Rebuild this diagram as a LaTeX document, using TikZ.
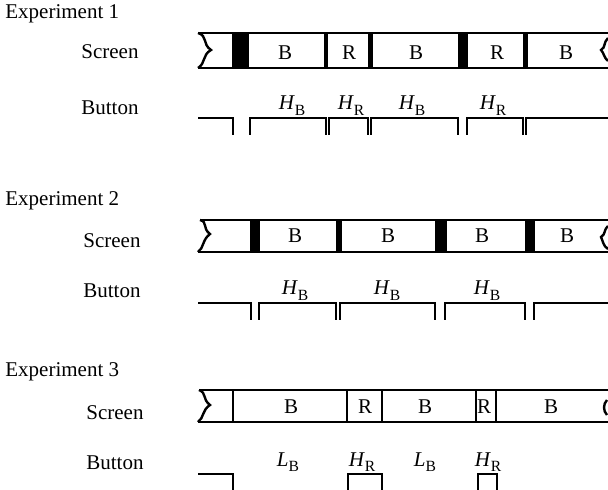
\documentclass[tikz,border=0pt]{standalone}
\usepackage{fontspec}
\setmainfont{Liberation Serif}
\usetikzlibrary{calc}

\tikzset{
    strip/.style={line width=1.2pt},
    pulse/.style={line width=1.2pt},
    divider/.style={line width=0.9pt},
    rowlabel/.style={anchor=base west,inner sep=0pt,font=\fontsize{10.5}{12}\selectfont},
    boxlabel/.style={anchor=base,inner sep=0pt,font=\fontsize{10.5}{12}\selectfont},
    presslabel/.style={anchor=base,inner sep=0pt,font=\fontsize{10.5}{12}\selectfont}
}
\newcommand{\press}[2]{\textit{#1}\raisebox{-0.28em}{\fontsize{7.8}{9}\selectfont #2}}

\begin{document}
\begin{tikzpicture}[x=0.5pt,y=-0.5pt]

\useasboundingbox (0,0) rectangle (608,490);

%====================================================
% Experiment 1
%====================================================

\node[rowlabel] (e1) at (5,19) {Experiment 1};
\node[rowlabel] (e1s) at (81,59) {Screen};
\node[rowlabel] (e1p) at (81,115) {Button};

\coordinate (s1tl) at (198,33);
\coordinate (s1bl) at (198,68);

\draw[strip] (s1tl) .. controls (208,36) and (202,44) .. (211,50)
                   .. controls (202,55) and (206,63) .. (s1bl);
\draw[strip] (s1tl) -- (608,33);
\draw[strip] (s1bl) -- (608,68);
\draw[strip] (608,38) .. controls (603,43) and (606,47) .. (601,50)
                      .. controls (604,53) and (604,58) .. (608,61);

\fill (232,33) rectangle (249,68);
\fill (324,33) rectangle (328,68);
\fill (368,33) rectangle (373,68);
\fill (458,33) rectangle (468,68);
\fill (523,33) rectangle (528,68);

\node[boxlabel] (s1a) at (285,60) {B};
\node[boxlabel] (s1b) at (349,60) {R};
\node[boxlabel] (s1c) at (416,60) {B};
\node[boxlabel] (s1d) at (497,60) {R};
\node[boxlabel] (s1e) at (566,60) {B};

\draw[pulse] (198,118) -| (233,135);
\draw[pulse] (250,135) |- (326,118) -- (326,135);
\draw[pulse] (329,135) |- (368,118) -- (368,135);
\draw[pulse] (371,135) |- (458,118) -- (458,135);
\draw[pulse] (467,135) |- (523,118) -- (523,135);
\draw[pulse] (526,135) |- (608,118);

\node[presslabel] (p1a) at (292,110) {\press{H}{B}};
\node[presslabel] (p1b) at (351,110) {\press{H}{R}};
\node[presslabel] (p1c) at (412,110) {\press{H}{B}};
\node[presslabel] (p1d) at (493,110) {\press{H}{R}};

%====================================================
% Experiment 2
%====================================================

\node[rowlabel] (e2) at (5,206) {Experiment 2};
\node[rowlabel] (e2s) at (83,248) {Screen};
\node[rowlabel] (e2p) at (83,298) {Button};

\coordinate (s2tl) at (200,220);
\coordinate (s2bl) at (198,252);

\draw[strip] (s2tl) .. controls (208,222) and (202,228) .. (210,234)
                   .. controls (202,240) and (204,248) .. (s2bl);
\draw[strip] (s2tl) -- (608,220);
\draw[strip] (s2bl) -- (608,252);
\draw[strip] (608,226) .. controls (603,231) and (606,234) .. (601,237)
                       .. controls (603,241) and (603,246) .. (608,249);

\fill (250,220) rectangle (260,252);
\fill (336,220) rectangle (342,252);
\fill (435,220) rectangle (447,252);
\fill (525,220) rectangle (535,252);

\node[boxlabel] (s2a) at (295,243) {B};
\node[boxlabel] (s2b) at (388,243) {B};
\node[boxlabel] (s2c) at (482,243) {B};
\node[boxlabel] (s2d) at (567,243) {B};

\draw[pulse] (198,303) -| (251,320);
\draw[pulse] (259,320) |- (336,303) -- (336,320);
\draw[pulse] (340,320) |- (435,303) -- (435,320);
\draw[pulse] (445,320) |- (525,303) -- (525,320);
\draw[pulse] (534,320) |- (608,303);

\node[presslabel] (p2a) at (295,295) {\press{H}{B}};
\node[presslabel] (p2b) at (387,295) {\press{H}{B}};
\node[presslabel] (p2c) at (487,295) {\press{H}{B}};

%====================================================
% Experiment 3
%====================================================

\node[rowlabel] (e3) at (5,377) {Experiment 3};
\node[rowlabel] (e3s) at (86,419) {Screen};
\node[rowlabel] (e3p) at (86,469) {Button};

\coordinate (s3tl) at (199,390);
\coordinate (s3bl) at (198,422);

\draw[strip] (s3tl) .. controls (207,393) and (202,399) .. (210,405)
                   .. controls (202,410) and (204,418) .. (s3bl);
\draw[strip] (s3tl) -- (608,390);
\draw[strip] (s3bl) -- (608,422);
\draw[strip] (607,400) .. controls (603,404) and (603,411) .. (607,415);

\draw[divider] (233,390) -- (233,422);
\draw[divider,line width=1.3pt] (347,390) -- (347,422);
\draw[divider] (382,390) -- (382,422);
\draw[divider,line width=1.4pt] (476,390) -- (476,422);
\draw[divider] (496,390) -- (496,422);

\node[boxlabel] (s3a) at (291,413) {B};
\node[boxlabel] (s3b) at (365,413) {R};
\node[boxlabel] (s3c) at (425,413) {B};
\node[boxlabel] (s3d) at (484,413) {R};
\node[boxlabel] (s3e) at (551,413) {B};

\draw[pulse] (198,474) -| (233,492);
\draw[pulse] (348,492) |- (382,474) -- (382,492);
\draw[pulse] (478,492) |- (497,474) -- (497,492);

\node[presslabel] (p3a) at (288,466) {\press{L}{B}};
\node[presslabel] (p3b) at (362,466) {\press{H}{R}};
\node[presslabel] (p3c) at (425,466) {\press{L}{B}};
\node[presslabel] (p3d) at (488,466) {\press{H}{R}};
\end{tikzpicture}
\end{document}
